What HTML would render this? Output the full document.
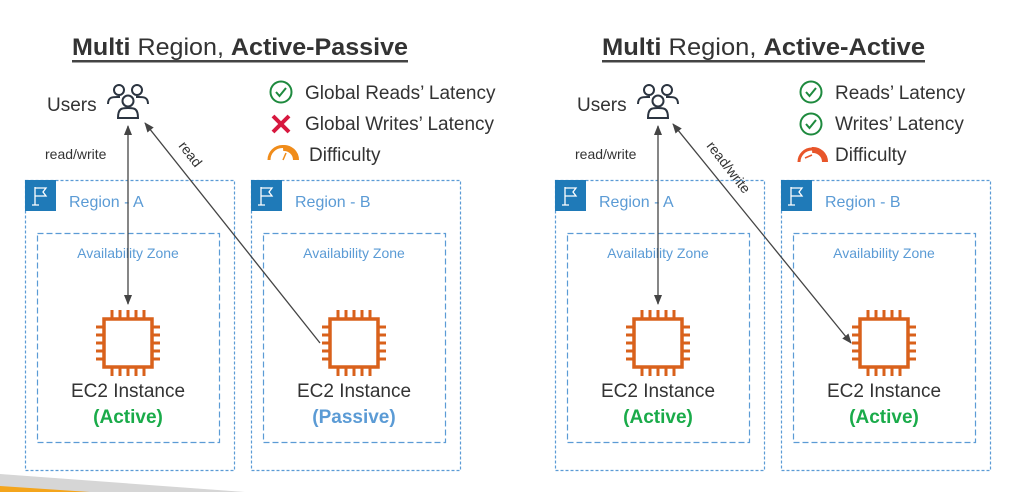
<!DOCTYPE html>
<html><head><meta charset="utf-8"><style>
html,body{margin:0;padding:0;background:#fff}
svg{display:block;font-family:"Liberation Sans",sans-serif}
.t{font-family:"Liberation Sans",sans-serif}
</style></head><body>
<svg width="1019" height="492" viewBox="0 0 1019 492" xmlns="http://www.w3.org/2000/svg">
<defs>
<marker id="ah" markerWidth="10" markerHeight="10" refX="9" refY="5" orient="auto-start-reverse" markerUnits="userSpaceOnUse">
<path d="M0,1 L10,5 L0,9 Z" fill="#444"/></marker>
<g id="chip">
<rect x="-24" y="-24" width="48" height="48" fill="#fff" stroke="#d9611b" stroke-width="3.5"/>
<g stroke="#d9611b" stroke-width="3">
<path d="M-16,-24V-33M-8,-24V-33M0,-24V-33M8,-24V-33M16,-24V-33"/>
<path d="M-16,24V33M-8,24V33M0,24V33M8,24V33M16,24V33"/>
<path d="M-24,-16H-32M-24,-8H-32M-24,0H-32M-24,8H-32M-24,16H-32"/>
<path d="M24,-16H32M24,-8H32M24,0H32M24,8H32M24,16H32"/>
</g></g>
<g id="flag">
<rect x="0" y="0" width="31" height="31" fill="#1f7ab8"/>
<path d="M10,7V25M7,25H14M10,8H21L18,12L21,16H10" fill="none" stroke="#fff" stroke-width="1.3"/>
</g>
<g id="users" fill="none" stroke="#2b3440" stroke-width="2">
<circle cx="-9" cy="-12" r="5"/><circle cx="9" cy="-12" r="5"/>
<path d="M-20,2 C-20,-6 -14,-5 -8,-5 M20,2 C20,-6 14,-5 8,-5"/>
<circle cx="0" cy="-1" r="5.5"/>
<path d="M-10,16 C-10,6 -6,6 0,6 C6,6 10,6 10,16 Z"/>
</g>
<g id="check"><circle cx="0" cy="0" r="10.5" fill="none" stroke="#1e8a3e" stroke-width="2"/><path d="M-5,0 L-1.5,4 L5,-4" fill="none" stroke="#1e8a3e" stroke-width="2"/></g>
</defs>

<!-- swoosh -->
<polygon points="0,474 245,492 0,492" fill="#d6d6d6"/>
<polygon points="0,486 90,492 0,492" fill="#f4a51c"/>

<!-- LEFT -->
<text x="72" y="55" font-size="24" fill="#333" textLength="336" lengthAdjust="spacingAndGlyphs"><tspan font-weight="bold">Multi</tspan> Region, <tspan font-weight="bold">Active-Passive</tspan></text>
<rect x="72" y="60" width="336" height="2.5" fill="#444"/>

<text x="47" y="111" font-size="19" fill="#333">Users</text>
<use href="#users" x="128" y="102"/>
<use href="#check" x="281" y="92"/>
<text x="305" y="99" font-size="19" fill="#333">Global Reads’ Latency</text>
<path d="M273,116 L289,132 M289,116 L273,132" stroke="#d7183f" stroke-width="4"/>
<text x="305" y="130" font-size="19" fill="#333">Global Writes’ Latency</text>
<path d="M269,160 A12,12 0 0 1 296,160" fill="none" stroke="#f08c1a" stroke-width="3"/>
<path d="M283,148 A12,12 0 0 1 296,160" fill="none" stroke="#f08c1a" stroke-width="6"/>
<path d="M283,160 L286,153" stroke="#f08c1a" stroke-width="1.5"/>
<text x="309" y="161" font-size="19" fill="#333">Difficulty</text>
<text x="45" y="159" font-size="14" fill="#333">read/write</text>
<text font-size="14" fill="#333" transform="translate(178,146) rotate(52)">read</text>

<rect x="25.5" y="180.5" width="209" height="290" fill="none" stroke="#5b9bd5" stroke-width="1.2" stroke-dasharray="3,2"/>
<use href="#flag" x="25" y="180"/>
<text x="69" y="207" font-size="16" fill="#5b9bd5">Region - A</text>
<rect x="37.5" y="233.5" width="182" height="209" fill="none" stroke="#5b9bd5" stroke-width="1.2" stroke-dasharray="6,3"/>
<text x="128" y="258" font-size="14" fill="#5b9bd5" text-anchor="middle">Availability Zone</text>

<rect x="251.5" y="180.5" width="209" height="290" fill="none" stroke="#5b9bd5" stroke-width="1.2" stroke-dasharray="3,2"/>
<use href="#flag" x="251" y="180"/>
<text x="295" y="207" font-size="16" fill="#5b9bd5">Region - B</text>
<rect x="263.5" y="233.5" width="182" height="209" fill="none" stroke="#5b9bd5" stroke-width="1.2" stroke-dasharray="6,3"/>
<text x="354" y="258" font-size="14" fill="#5b9bd5" text-anchor="middle">Availability Zone</text>

<use href="#chip" x="128" y="343"/>
<use href="#chip" x="354" y="343"/>
<text x="128" y="397" font-size="19" fill="#333" text-anchor="middle">EC2 Instance</text>
<text x="128" y="423" font-size="19" font-weight="bold" fill="#1aab4a" text-anchor="middle">(Active)</text>
<text x="354" y="397" font-size="19" fill="#333" text-anchor="middle">EC2 Instance</text>
<text x="354" y="423" font-size="19" font-weight="bold" fill="#5b9bd5" text-anchor="middle">(Passive)</text>

<line x1="128" y1="304" x2="128" y2="126" stroke="#444" stroke-width="1.3" marker-start="url(#ah)" marker-end="url(#ah)"/>
<line x1="320" y1="343" x2="145" y2="123" stroke="#444" stroke-width="1.3" marker-end="url(#ah)"/>

<!-- RIGHT -->
<text x="602" y="55" font-size="24" fill="#333" textLength="323" lengthAdjust="spacingAndGlyphs"><tspan font-weight="bold">Multi</tspan> Region, <tspan font-weight="bold">Active-Active</tspan></text>
<rect x="602" y="60" width="323" height="2.5" fill="#444"/>

<text x="577" y="111" font-size="19" fill="#333">Users</text>
<use href="#users" x="658" y="102"/>
<use href="#check" x="811" y="92"/>
<text x="835" y="99" font-size="19" fill="#333">Reads’ Latency</text>
<use href="#check" x="811" y="124"/>
<text x="835" y="130" font-size="19" fill="#333">Writes’ Latency</text>
<path d="M799,162 A12,12 0 0 1 825,162" fill="none" stroke="#e8552a" stroke-width="3"/>
<path d="M812,150 A12,12 0 0 1 825,162" fill="none" stroke="#e8552a" stroke-width="6"/>
<path d="M805,158 L812,155" stroke="#e8552a" stroke-width="1.5"/>
<text x="835" y="161" font-size="19" fill="#333">Difficulty</text>
<text x="575" y="159" font-size="14" fill="#333">read/write</text>
<text font-size="14" fill="#333" transform="translate(706,146) rotate(52)">read/write</text>

<rect x="555.5" y="180.5" width="209" height="290" fill="none" stroke="#5b9bd5" stroke-width="1.2" stroke-dasharray="3,2"/>
<use href="#flag" x="555" y="180"/>
<text x="599" y="207" font-size="16" fill="#5b9bd5">Region - A</text>
<rect x="567.5" y="233.5" width="182" height="209" fill="none" stroke="#5b9bd5" stroke-width="1.2" stroke-dasharray="6,3"/>
<text x="658" y="258" font-size="14" fill="#5b9bd5" text-anchor="middle">Availability Zone</text>

<rect x="781.5" y="180.5" width="209" height="290" fill="none" stroke="#5b9bd5" stroke-width="1.2" stroke-dasharray="3,2"/>
<use href="#flag" x="781" y="180"/>
<text x="825" y="207" font-size="16" fill="#5b9bd5">Region - B</text>
<rect x="793.5" y="233.5" width="182" height="209" fill="none" stroke="#5b9bd5" stroke-width="1.2" stroke-dasharray="6,3"/>
<text x="884" y="258" font-size="14" fill="#5b9bd5" text-anchor="middle">Availability Zone</text>

<use href="#chip" x="658" y="343"/>
<use href="#chip" x="884" y="343"/>
<text x="658" y="397" font-size="19" fill="#333" text-anchor="middle">EC2 Instance</text>
<text x="658" y="423" font-size="19" font-weight="bold" fill="#1aab4a" text-anchor="middle">(Active)</text>
<text x="884" y="397" font-size="19" fill="#333" text-anchor="middle">EC2 Instance</text>
<text x="884" y="423" font-size="19" font-weight="bold" fill="#1aab4a" text-anchor="middle">(Active)</text>

<line x1="658" y1="304" x2="658" y2="126" stroke="#444" stroke-width="1.3" marker-start="url(#ah)" marker-end="url(#ah)"/>
<line x1="851" y1="343" x2="673" y2="124" stroke="#444" stroke-width="1.3" marker-start="url(#ah)" marker-end="url(#ah)"/>
</svg>
</body></html>
